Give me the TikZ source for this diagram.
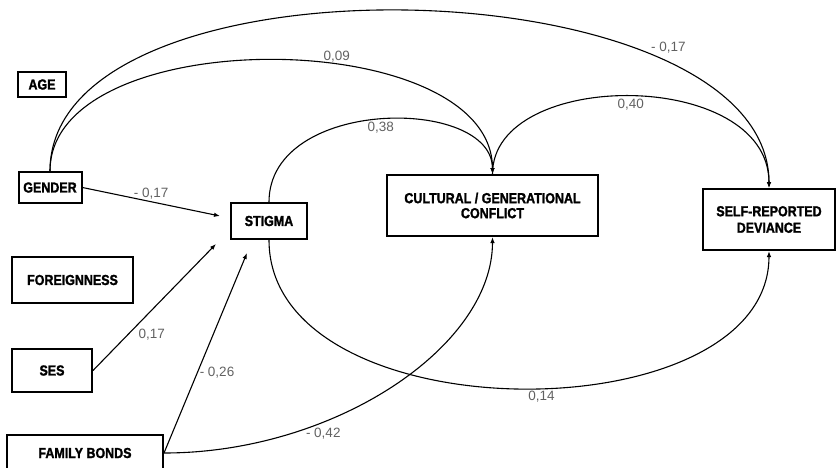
\documentclass[tikz,border=0pt]{standalone}
\usepackage{fontspec}
\usetikzlibrary{arrows.meta, calc}
\newfontfamily\boxfont{Liberation Sans Bold}[FakeStretch=0.86, FakeBold=1.6]
\newfontfamily\numfont{Liberation Sans}
\definecolor{coefgray}{gray}{0.38}

\begin{document}
\begin{tikzpicture}[x=1pt, y=-1pt,
  var/.style={draw, line width=2pt, inner sep=0pt, align=center,
    font=\boxfont\fontsize{14.5}{15}\selectfont},
  effect/.style={line width=1.1pt, -{Latex[length=6pt,width=4.5pt]}},
  coef/.style={text=coefgray, font=\numfont\fontsize{13.5}{14}\selectfont, inner sep=2pt}]
\useasboundingbox (0,0) rectangle (836,467);
% Variables
\node[var, minimum width=48pt, minimum height=25pt] (age) at (42,84.5) {AGE};
\node[var, minimum width=63pt, minimum height=31pt] (gender) at (50,187.5) {GENDER};
\node[var, minimum width=121pt, minimum height=46pt] (foreign) at (72.5,280) {FOREIGNNESS};
\node[var, minimum width=80pt, minimum height=43pt] (ses) at (52,370.5) {SES};
\node[var, minimum width=156pt, minimum height=36pt] (family) at (85,453) {FAMILY BONDS};
\node[var, minimum width=76pt, minimum height=36pt] (stigma) at (269,221) {STIGMA};
\node[var, minimum width=211pt, minimum height=61pt] (cultural) at (492.5,205.5) {CULTURAL / GENERATIONAL\\CONFLICT};
\node[var, minimum width=132pt, minimum height=61pt, font=\boxfont\fontsize{14.5}{16.5}\selectfont] (deviance) at (769,219.5) {SELF-REPORTED\\DEVIANCE};
% Paths into stigma
\draw[effect] (gender.east) -- node[coef, above] {- 0,17} ([shift={(-10,-5)}]stigma.west);
\draw[effect] (ses.east) -- node[coef, pos=0.35, below right] {0,17} ([shift={(-14,4)}]stigma.south west);
\draw[effect] (family.east) -- node[coef, pos=0.4, right] {- 0,26} ([shift={(-22,13)}]stigma.south);
% Arcs over the top
\draw[effect] (gender.north) .. controls +(0,-225) and +(0,-225) .. node[coef, pos=0.74, above right] {- 0,17} (deviance.north);
\draw[effect] (gender.north) .. controls +(0,-150) and +(0,-150) .. node[coef, pos=0.6, above] {0,09} (cultural.north);
\draw[effect] (stigma.north) .. controls +(0,-105) and +(0,-78) .. node[coef, pos=0.5, below] {0,38} (cultural.north);
\draw[effect] (cultural.north) .. controls +(0,-106) and +(0,-120) .. node[coef, pos=0.5, below] {0,40} (deviance.north);
% Arcs underneath
\draw[effect] (stigma.south) .. controls +(0,196) and +(0,185) .. node[coef, pos=0.53, below] {0,14} (deviance.south);
\draw[effect] (family.east) .. controls +(170,0) and +(0,110) .. node[coef, pos=0.33, below=3pt] {- 0,42} (cultural.south);
\end{tikzpicture}
\end{document}
